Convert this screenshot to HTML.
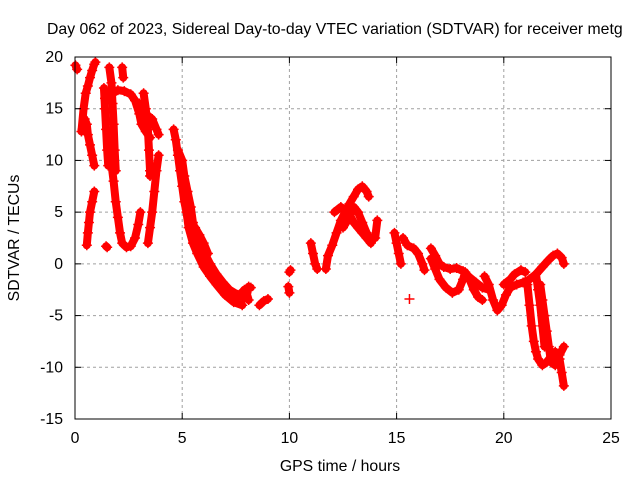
<!DOCTYPE html>
<html><head><meta charset="utf-8"><style>
body{margin:0;background:#fff;}
svg text{font-family:"Liberation Sans",sans-serif;font-size:15.8px;fill:#000;}
</style></head><body>
<svg id="chart" width="640" height="480" xmlns="http://www.w3.org/2000/svg">
<rect width="640" height="480" fill="#fff"/>
<g id="grid"></g><g id="series"></g><g id="axes"></g>
<text x="47" y="34" text-anchor="start">Day 062 of 2023, Sidereal Day-to-day VTEC variation (SDTVAR) for receiver metg</text>
<text x="340" y="471" text-anchor="middle">GPS time / hours</text>
<text transform="translate(19,238) rotate(-90)" text-anchor="middle">SDTVAR / TECUs</text>
</svg>
<script>
const xTicks=[0,5,10,15,20,25];
const yTicks=[-15,-10,-5,0,5,10,15,20];
const tracks=[
[[0.02,19.2],[0.1,18.8]],
[[0.3,12.8],[0.4,15],[0.5,16.5],[0.6,17.2],[0.7,18],[0.8,18.7],[0.9,19.3],[0.95,19.5]],
[[0.35,13],[0.45,14],[0.55,13.5],[0.6,12.5],[0.7,11.5],[0.8,10.5],[0.9,9.5]],
[[0.55,1.8],[0.6,3],[0.65,4],[0.7,5],[0.8,6],[0.9,7]],
[[1.45,1.7],[1.5,1.6]],
[[1.35,17],[1.4,15],[1.45,13],[1.5,11],[1.55,9.5]],
[[1.6,19],[1.7,17.5],[1.75,15.5],[1.8,13.5],[1.85,11],[1.9,9]],
[[1.65,10.5],[1.8,8],[1.9,6],[2.0,4.5],[2.1,3],[2.2,2],[2.4,1.6],[2.6,1.7],[2.8,2.5],[2.95,3.8],[3.05,5]],
[[1.4,16],[1.7,16.4],[2.0,16.8],[2.3,16.7],[2.6,16.4],[2.8,15.8],[3.0,14.5],[3.1,13.5],[3.3,12.8],[3.5,12.2]],
[[2.2,19],[2.25,18]],
[[3.2,16.5],[3.3,15],[3.4,13],[3.45,11],[3.5,9],[3.5,8.5]],
[[3.4,2],[3.5,3.5],[3.6,5],[3.7,7],[3.8,9],[3.9,10.5]],
[[3.0,15.5],[3.3,14.5],[3.6,14],[3.8,13],[3.9,12.5]],
[[4.6,13],[4.7,12],[4.8,10.5],[4.9,9],[5.0,7.5],[5.1,6],[5.2,5],[5.3,3.5],[5.5,2],[5.7,1],[6.0,-0.3],[6.3,-1.2],[6.6,-2],[7.0,-3],[7.4,-3.7],[7.8,-4]],
[[4.8,11],[5.0,10],[5.1,8.5],[5.25,7],[5.4,5.5],[5.5,4],[5.7,2.5],[6.0,1.2],[6.3,0],[6.6,-1],[6.9,-1.8],[7.2,-2.5],[7.6,-3],[7.9,-3.3]],
[[5.6,3.5],[5.8,2.8],[6.0,2],[6.2,1]],
[[7.4,-3.5],[7.7,-3],[7.9,-2.5],[8.0,-2.8],[8.1,-3.5]],
[[8.1,-2.2],[8.2,-2.3]],
[[8.6,-4],[8.8,-3.6],[9.0,-3.4]],
[[10.0,-0.8],[10.05,-0.6]],[[9.95,-2.2],[10.0,-2.8]],
[[11.0,2],[11.1,1],[11.2,0],[11.3,-0.5]],
[[11.7,-0.5],[11.8,0.8],[12.0,1.8],[12.2,3],[12.4,4.2],[12.6,5],[12.8,5.8],[13.0,6.5],[13.2,7.2],[13.4,7.5],[13.6,7],[13.7,6.5]],
[[12.1,5],[12.4,5.5],[12.6,5.2],[12.8,4.8],[13.0,4],[13.2,3.5],[13.4,3],[13.6,2.5],[13.8,2]],
[[12.5,3.5],[12.8,4.5],[13.0,5.5],[13.2,5],[13.4,4],[13.6,3],[13.8,2.3]],
[[14.1,4.2],[14.0,2.5]],
[[14.9,3],[15.0,2],[15.1,1],[15.2,0]],
[[15.6,-3.4]],
[[15.3,2.5],[15.5,1.8],[15.8,1.5],[16.0,1],[16.2,0],[16.3,-0.6]],
[[16.6,1.5],[16.8,0.8],[17.0,0],[17.2,-0.3],[17.5,-0.5],[17.8,-0.4],[18.1,-0.7],[18.4,-1.3],[18.7,-1.8],[19.0,-2.3],[19.3,-2.5]],
[[16.6,0.5],[16.8,-0.5],[17.0,-1.5],[17.3,-2.3],[17.6,-2.8],[17.9,-2.5],[18.1,-1.5],[18.2,-0.8],[18.4,-1.5],[18.6,-2.5],[18.8,-3.2],[19.0,-3.5]],
[[19.1,-1.2],[19.3,-2],[19.5,-3.5],[19.7,-4.5],[19.9,-4],[20.1,-3],[20.3,-2.3],[20.6,-2],[20.9,-1.8],[21.2,-1.5],[21.5,-1],[21.8,-0.3],[22.1,0.4],[22.3,0.8],[22.5,1],[22.7,0.6],[22.8,0]],
[[20.0,-2],[20.3,-1.5],[20.5,-1],[20.8,-0.6],[21.0,-0.8]],
[[21.1,-2],[21.2,-4],[21.3,-6],[21.4,-7.5],[21.5,-8.5],[21.6,-9.2],[21.8,-9.8],[22.0,-9.5],[22.2,-9],[22.4,-8.5],[22.6,-9.2],[22.7,-10.5],[22.8,-11.8]],
[[21.7,-2],[21.8,-3.5],[21.9,-5],[22.0,-6.5],[22.1,-8],[22.2,-9.5],[22.4,-9.8],[22.6,-8.8],[22.8,-8]],
[[21.5,-1],[21.6,-2.5],[21.7,-4],[21.8,-6],[21.9,-8]]
];
const X0=75,X1=611,Y0=419,Y1=57;
const sx=v=>X0+(v-0)/25*(X1-X0);
const sy=v=>Y0-(v+15)/35*(Y0-Y1);
const NS="http://www.w3.org/2000/svg";
function mk(tag,attrs,parent){const e=document.createElementNS(NS,tag);for(const k in attrs)e.setAttribute(k,attrs[k]);parent.appendChild(e);return e;}
const grid=document.getElementById('grid'),axes=document.getElementById('axes'),series=document.getElementById('series');
xTicks.forEach(t=>{
 const x=sx(t);
 if(t>0&&t<25){const g=mk('line',{x1:x,x2:x,y1:Y1,y2:Y0,stroke:'#a0a0a0','stroke-dasharray':'3,3'},grid);
 
 }
 mk('line',{x1:x,x2:x,y1:Y0,y2:Y0-6,stroke:'#000'},axes);
 mk('line',{x1:x,x2:x,y1:Y1,y2:Y1+6,stroke:'#000'},axes);
 const tx=mk('text',{x:x,y:Y0+24,'text-anchor':'middle'},axes);tx.textContent=t;
 
 
});
yTicks.forEach(t=>{
 const y=sy(t);
 if(t>-15&&t<20){const g=mk('line',{x1:X0,x2:X1,y1:y,y2:y,stroke:'#a0a0a0','stroke-dasharray':'3,3'},grid);
 
 }
 mk('line',{x1:X0,x2:X0+6,y1:y,y2:y,stroke:'#000'},axes);
 mk('line',{x1:X1,x2:X1-6,y1:y,y2:y,stroke:'#000'},axes);
 const tx=mk('text',{x:X0-12,y:y+5,'text-anchor':'end'},axes);tx.textContent=t;
 
 
});
const fr=mk('rect',{x:X0,y:Y1,width:X1-X0,height:Y0-Y1,fill:'none',stroke:'#000'},axes);


tracks.forEach(tr=>{
 const pl=mk('polyline',{points:tr.map(p=>sx(p[0])+','+sy(p[1])).join(' '),fill:'none',stroke:'#f00','stroke-width':8,'stroke-linejoin':'round','stroke-linecap':'round'},series);
 
 
 tr.forEach(p=>{
  const x=sx(p[0]),y=sy(p[1]);
  const m=mk('path',{d:`M${x-5},${y}H${x+5}M${x},${y-5}V${y+5}`,stroke:'#f00','stroke-width':1.5},series);
  
  
 });
});
</script>
</body></html>
